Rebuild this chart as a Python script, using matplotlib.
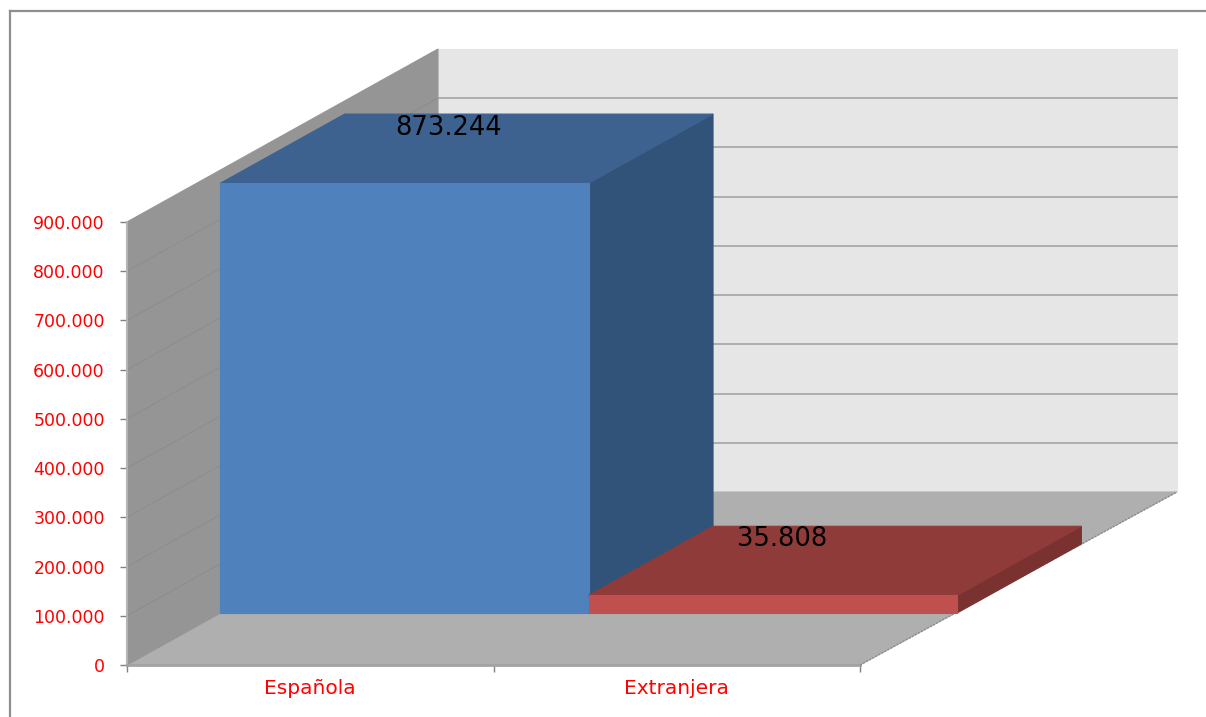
import matplotlib
matplotlib.use("Agg")
import matplotlib.pyplot as plt
from matplotlib.lines import Line2D
from matplotlib.patches import Polygon

categories = ["Española", "Extranjera"]
values = [873244, 35808]
value_ticks = [0, 100000, 200000, 300000, 400000, 500000, 600000, 700000, 800000, 900000]

front_colors = ["#4f81bd", "#c0504d"]
top_colors = ["#3d6290", "#8f3b39"]
side_colors = ["#315279", "#79322f"]

W, H = 1206, 717
# front plane of the box in pixels
LEFT, RIGHT, BASE, TOP = 127, 860, 665, 222
YMAX = 900000
CAT_PX = (RIGHT - LEFT) / 2
DEPTH_X = 311 / CAT_PX                 # how far the back wall is shifted, in category units
DEPTH_Y = 173 / (BASE - TOP) * YMAX    # same, in value units
BAR_EDGES = [0, 1.005, 2.01]
WALL_RIGHT = 2.016


def p(x, v, d):
    # oblique projection, d=0 is the front of the box and d=1 the back wall
    return (x + d * DEPTH_X, v + d * DEPTH_Y)


def face(ax, pts, color, edge=None, z=1):
    ax.add_patch(Polygon(pts, closed=True, facecolor=color, edgecolor=edge or color,
                         linewidth=0.8, clip_on=False, zorder=z))


fig = plt.figure(figsize=(W / 100, H / 100), dpi=100)
ax = fig.add_axes([LEFT / W, 1 - BASE / H, (RIGHT - LEFT) / W, (BASE - TOP) / H])
ax.set_xlim(0, 2)
ax.set_ylim(0, YMAX)
ax.patch.set_visible(False)
for s in ax.spines.values():
    s.set_visible(False)

# walls and floor
face(ax, [p(0, 0, 1), p(WALL_RIGHT, 0, 1), p(WALL_RIGHT, YMAX, 1), p(0, YMAX, 1)], "#e6e6e6", z=1)
face(ax, [p(0, 0, 0), p(2, 0, 0), p(WALL_RIGHT, 0, 1), p(0, 0, 1)], "#afafaf", z=2)
face(ax, [p(0, 0, 0), p(0, 0, 1), p(0, YMAX, 1), p(0, YMAX, 0)], "#959595", z=2)

# grid on the back wall and on the side wall
for v in value_ticks[1:-1]:
    ax.plot(*zip(p(0, v, 1), p(WALL_RIGHT, v, 1)), color="#a4a4a4", lw=1.2, clip_on=False, zorder=3)
for v in value_ticks[1:-1]:
    ax.plot(*zip(p(0, v, 0), p(0, v, 1)), color="#8b8b8b", lw=0.6, clip_on=False, zorder=3)

ax.plot(*zip(p(0, 0, 0), p(0, YMAX, 0)), color="#b4b4b4", lw=1.5, clip_on=False, zorder=3)
ax.plot(*zip(p(0, 0, 0), p(2, 0, 0)), color="#a2a2a2", lw=2, clip_on=False, zorder=3)
ax.plot(*zip(p(2, 0, 0), p(WALL_RIGHT, 0, 1)), color="#8a8a8a", lw=1, ls=(0, (1.5, 1)), clip_on=False, zorder=3)

# bars
d0, d1 = 0.3, 0.7
label_offsets = [(-18, 21), (-53, 22)]
for i, val in enumerate(values):
    x0, x1 = BAR_EDGES[i], BAR_EDGES[i + 1]
    z = 5 + i
    face(ax, [p(x1, 0, d0), p(x1, 0, d1), p(x1, val, d1), p(x1, val, d0)], side_colors[i], z=z)
    face(ax, [p(x0, val, d0), p(x1, val, d0), p(x1, val, d1), p(x0, val, d1)], top_colors[i], z=z)
    face(ax, [p(x0, 0, d0), p(x1, 0, d0), p(x1, val, d0), p(x0, val, d0)], front_colors[i], z=z + 0.5)
    ax.annotate(f"{val:,}".replace(",", "."), xy=p((x0 + x1) / 2, val, 0.5),
                xytext=(label_offsets[i][0] * 0.72, label_offsets[i][1] * 0.72),
                textcoords="offset points", ha="center", va="center",
                fontsize=18.5, color="black", zorder=20, annotation_clip=False)

# axes
ax.set_yticks(value_ticks)
ax.set_yticklabels([f"{v:,}".replace(",", ".") for v in value_ticks])
ax.tick_params(axis="y", length=5, width=1, color="#808080", labelcolor="#ff0000",
               labelsize=12.5, pad=11)
ax.set_xticks([0, 1, 2])
ax.set_xticklabels([])
ax.set_xticks([0.5, 1.5], minor=True)
ax.set_xticklabels(categories, minor=True)
ax.tick_params(axis="x", which="major", length=5, width=1, color="#808080")
ax.tick_params(axis="x", which="minor", length=0, labelcolor="#ff0000", labelsize=14.5, pad=10)

# chart frame, only top and left show in the picture
fig.add_artist(Line2D([10 / W, 10 / W], [0, 1 - 11 / H], color="#8f8f8f", lw=1.6))
fig.add_artist(Line2D([10 / W, 1], [1 - 11 / H, 1 - 11 / H], color="#8f8f8f", lw=1.6))

fig.savefig("out.png", dpi=100)
